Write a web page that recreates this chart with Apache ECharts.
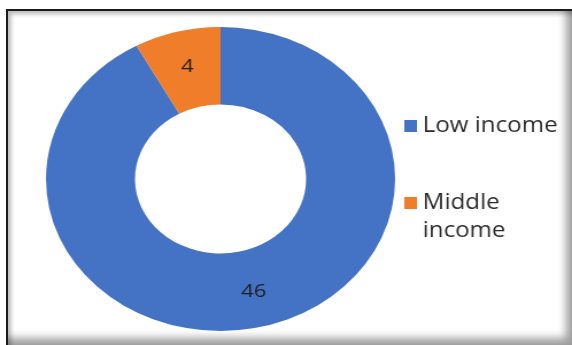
<!DOCTYPE html>
<html>
<head>
<meta charset="utf-8">
<script src="https://cdn.jsdelivr.net/npm/echarts@6/dist/echarts.min.js"></script>
<style>
  html, body { margin: 0; padding: 0; background: #fff; }
  body { width: 572px; height: 345px; position: relative; overflow: hidden; }
  #frame {
    position: absolute; left: 6px; top: 9px; width: 564px; height: 334px;
    border-left: 2px solid #1a1a1a; border-top: 2px solid #1a1a1a;
    background: #fff;
    box-shadow: inset 3px 3px 4px rgba(0,0,0,0.28), inset -9px -10px 8px -3px rgba(0,0,0,0.38);
  }
  /* the chart is laid out narrower and stretched horizontally to an elliptical ring */
  #chart {
    position: absolute; left: 0; top: 0; width: 498px; height: 345px;
    transform: scaleX(1.1486); transform-origin: 0 0;
  }
</style>
</head>
<body>
<div id="frame"></div>
<div id="chart"></div>
<script>
// Income groups and their counts
const categories = ['Low income', 'Middle income'];
const values = [46, 4];
const colors = ['#4472C4', '#F07D2A'];

const chart = echarts.init(document.getElementById('chart'), null, { renderer: 'canvas' });

const pieData = categories.map((name, i) => ({
  name: name,
  value: values[i],
  itemStyle: { color: colors[i] }
}));

chart.setOption({
  animation: false,
  legend: {
    orient: 'vertical',
    left: 347,
    top: 107,
    itemGap: 21,
    itemWidth: 11,
    itemHeight: 12,
    icon: 'rect',
    selectedMode: false,
    // the two-word label wraps; a blank leading line keeps the swatch beside the first word
    formatter: name => name === 'Middle income' ? ' \nMiddle\nincome' : name,
    textStyle: {
      fontFamily: 'Open Sans',
      fontSize: 21,
      lineHeight: 28,
      color: '#2b2b2b'
    },
    data: categories
  },
  series: [{
    type: 'pie',
    center: [192, 179],
    radius: [74.5, 152],
    startAngle: 90,
    clockwise: true,
    avoidLabelOverlap: false,
    silent: true,
    label: {
      show: true,
      position: 'inside',
      formatter: '{c}',
      fontFamily: 'Open Sans',
      fontSize: 19,
      color: '#1f1f1f'
    },
    labelLine: { show: false },
    data: pieData
  }]
});
</script>
</body>
</html>
